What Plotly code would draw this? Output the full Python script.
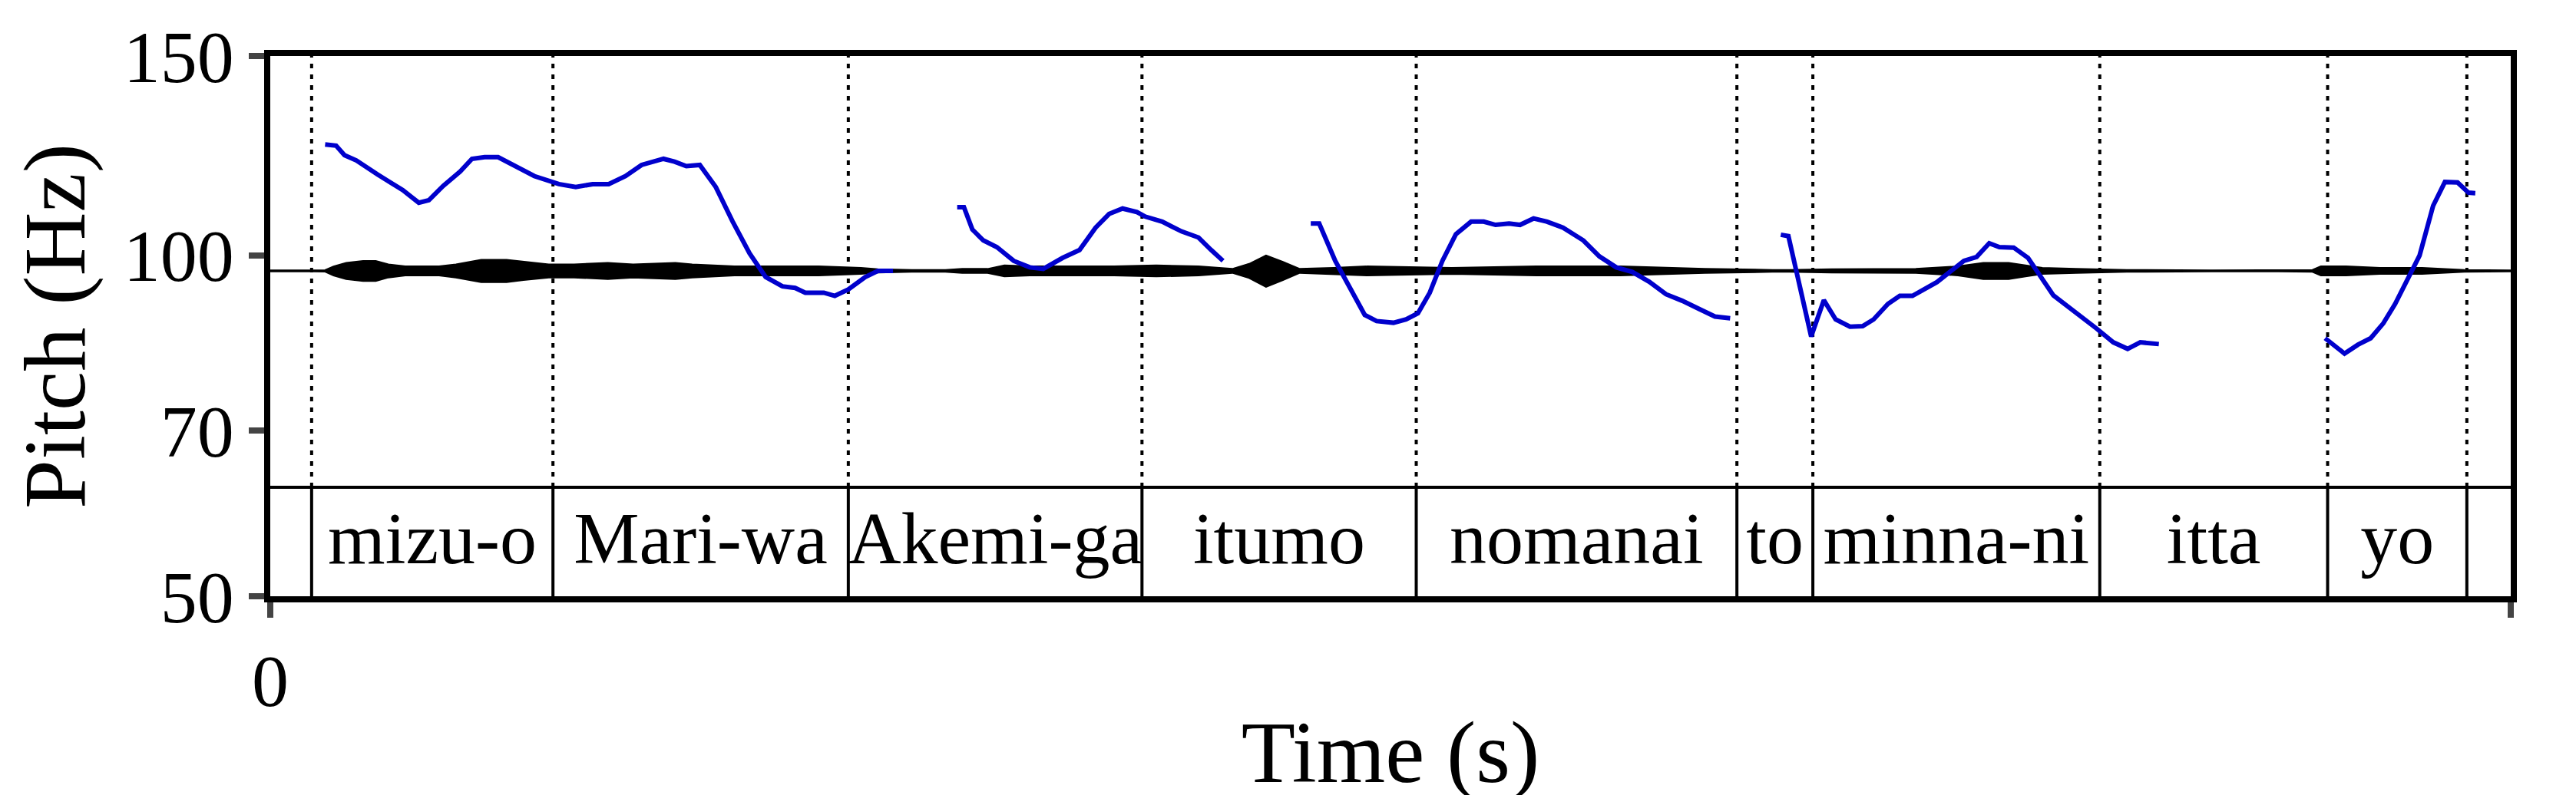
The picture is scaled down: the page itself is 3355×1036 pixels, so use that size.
import plotly.graph_objects as go

# word boundaries (s) and labels
bounds = [0.049, 0.335, 0.685, 1.033, 1.358, 1.738, 1.828, 2.168, 2.438, 2.603]
words = ["mizu-o", "Mari-wa", "Akemi-ga", "itumo", "nomanai", "to", "minna-ni", "itta", "yo"]
t_end = 2.655
tier_top = 62.4
label_y = 55.5

# pitch contour segments (time s, Hz)
p1_t = [.065, .078, .088, .102, .127, .157, .176, .188, .205, .225, .239, .254, .270, .290, .313, .342,
        .362, .382, .401, .421, .440, .466, .479, .493, .509, .528, .548, .568, .587, .607, .622, .634,
        .656, .669, .685, .705, .720, .738]
p1_f = [125.3, 125.0, 122.6, 121.3, 117.9, 114.2, 111.3, 111.9, 115.2, 118.6, 121.7, 122.1, 122.1, 119.9,
        117.5, 115.6, 114.9, 115.6, 115.6, 117.5, 120.2, 121.7, 121.0, 119.9, 120.2, 114.9, 107.1, 100.4,
        95.7, 93.9, 93.6, 92.7, 92.7, 92.1, 93.3, 95.7, 96.9, 96.9]
p2_t = [.814, .822, .832, .845, .861, .881, .900, .916, .939, .959, .978, .994, 1.010, 1.027, 1.037,
        1.057, 1.080, 1.100, 1.115, 1.129]
p2_f = [110.3, 110.3, 105.4, 103.1, 101.7, 98.9, 97.6, 97.3, 99.5, 101.1, 105.8, 108.8, 110.0, 109.2,
        108.2, 107.1, 105.0, 103.7, 101.1, 98.9]
p3_t = [1.233, 1.243, 1.262, 1.282, 1.297, 1.311, 1.331, 1.346, 1.360, 1.374, 1.389, 1.405, 1.423, 1.438,
        1.452, 1.468, 1.481, 1.497, 1.513, 1.532, 1.556, 1.575, 1.595, 1.614, 1.634, 1.654, 1.673, 1.693,
        1.712, 1.730]
p3_f = [106.7, 106.7, 98.9, 92.7, 88.6, 87.5, 87.2, 87.8, 88.9, 92.7, 98.9, 104.4, 107.1, 107.1, 106.4,
        106.7, 106.4, 107.8, 107.1, 105.8, 103.1, 99.8, 97.6, 96.7, 94.8, 92.4, 91.2, 89.7, 88.3, 88.0]
p4_t = [1.790, 1.799, 1.826, 1.841, 1.855, 1.872, 1.887, 1.900, 1.917, 1.931, 1.946, 1.975, 2.007, 2.022,
        2.037, 2.049, 2.066, 2.083, 2.113, 2.130, 2.164, 2.184, 2.201, 2.216, 2.238]
p4_f = [104.3, 104.0, 84.8, 91.3, 87.8, 86.5, 86.6, 87.8, 90.6, 92.1, 92.1, 94.7, 98.9, 99.7, 102.5,
        101.7, 101.6, 99.5, 92.2, 90.2, 86.2, 83.8, 82.7, 83.8, 83.5]
p5_t = [2.435, 2.458, 2.474, 2.489, 2.504, 2.518, 2.547, 2.563, 2.577, 2.592, 2.605, 2.613]
p5_f = [84.5, 81.9, 83.4, 84.5, 87.1, 90.6, 100.0, 110.6, 116.1, 116.0, 113.6, 113.5]

# waveform envelope (time s, half amplitude Hz around the centre line)
wave_center = 96.9
env_t = [0, .049, .065, .075, .09, .11, .125, .14, .16, .18, .2, .22, .25, .28, .3, .33, .36, .4, .43,
         .48, .5, .55, .6, .65, .7, .72, .76, .8, .82, .85, .87, .9, 1.0, 1.05, 1.1, 1.14, 1.16, 1.18,
         1.2, 1.22, 1.26, 1.3, 1.4, 1.5, 1.6, 1.65, 1.7, 1.78, 1.8, 1.85, 1.9, 1.95, 2.0, 2.03, 2.06,
         2.08, 2.1, 2.14, 2.2, 2.3, 2.38, 2.42, 2.43, 2.46, 2.5, 2.55, 2.6, 2.655]
env_a = [.1, .1, .15, .9, 1.6, 2.0, 2.0, 1.3, .9, .9, .9, 1.3, 2.2, 2.2, 1.8, 1.3, 1.3, 1.6, 1.3,
         1.6, 1.3, .9, .9, .9, .6, .35, .2, .2, .4, .4, 1.1, .9, .9, 1.1, .9, .4, 1.4, 3.1, 1.8,
         .4, .6, .9, .6, .9, .9, .6, .4, .2, .2, .35, .4, .4, .9, 1.6, 1.6, 1.1, .6, .4, .2, .1,
         .1, .2, .9, .9, .6, .6, .2, .1]

FONT = "Liberation Serif"
fig = go.Figure()

# waveform band
up = [wave_center + a for a in env_a]
lo = [wave_center - a for a in env_a]
fig.add_trace(go.Scatter(x=env_t + env_t[::-1], y=up + lo[::-1], fill="toself", fillcolor="black",
                         mode="lines", line=dict(color="black", width=2), hoverinfo="skip"))

# dotted boundaries above tier, solid inside tier
dx, dy, sx, sy = [], [], [], []
for b in bounds:
    dx += [b, b, None]; dy += [tier_top, 150, None]
    sx += [b, b, None]; sy += [50, tier_top, None]
fig.add_trace(go.Scatter(x=dx, y=dy, mode="lines", line=dict(color="black", width=4, dash="6px,8px")))
fig.add_trace(go.Scatter(x=sx + [0, t_end], y=sy + [tier_top, tier_top], mode="lines",
                         line=dict(color="black", width=4)))

for tt, ff in [(p1_t, p1_f), (p2_t, p2_f), (p3_t, p3_f), (p4_t, p4_f), (p5_t, p5_f)]:
    fig.add_trace(go.Scatter(x=tt, y=ff, mode="lines", line=dict(color="#0000cc", width=6)))

mids = [(bounds[i] + bounds[i + 1]) / 2 for i in range(len(words))]
fig.add_trace(go.Scatter(x=mids, y=[label_y] * len(words), mode="text", text=words,
                         textfont=dict(family=FONT, size=96, color="black")))

fig.update_xaxes(range=[0, t_end], tickvals=[0, t_end], ticktext=["0", "2.655"], ticks="outside",
                 ticklen=20, tickwidth=8, showline=True, linewidth=8, linecolor="black", mirror=True,
                 showgrid=False, zeroline=False, title=dict(text="Time (s)", standoff=10),
                 tickfont=dict(size=96))
fig.update_yaxes(type="log", range=[1.69897, 2.176091], tickvals=[50, 70, 100, 150],
                 ticktext=["50", "70", "100", "150"], ticks="outside", ticklen=20, tickwidth=8,
                 showline=True, linewidth=8, linecolor="black", mirror=True, showgrid=False,
                 zeroline=False, title=dict(text="Pitch (Hz)", standoff=25), tickfont=dict(size=96))
fig.update_layout(width=3355, height=1036, showlegend=False, plot_bgcolor="white",
                  paper_bgcolor="white", margin=dict(l=344, r=93, t=65, b=236),
                  font=dict(family=FONT, size=96, color="black"))
fig.write_html("out.html")
